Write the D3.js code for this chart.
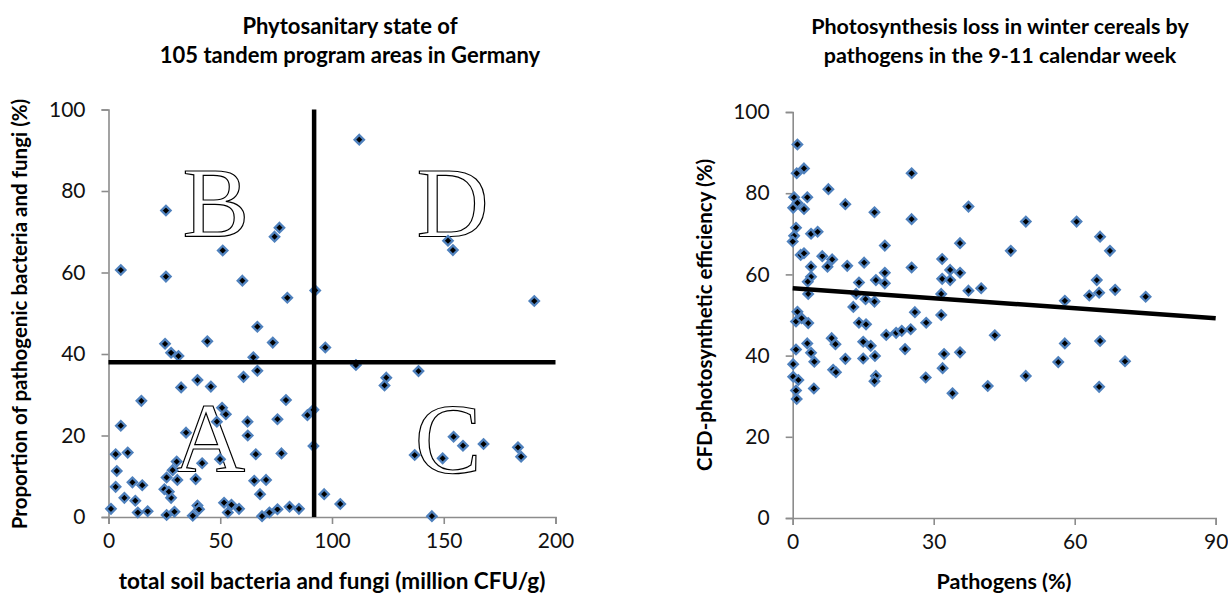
<!DOCTYPE html>
<html><head><meta charset="utf-8">
<script src="https://cdn.jsdelivr.net/npm/d3@7"></script>
<style>
body{margin:0;background:#fff;}
svg{display:block;font-family:Lato,"Open Sans",sans-serif;}
.tick text{font-size:21px;fill:#111;}
</style></head><body>
<svg id="c" width="1228" height="596"></svg>
<script>
// ---- Left chart data: total soil bacteria & fungi (million CFU/g) vs pathogenic proportion (%)
const leftX = [25.7,51.1,74.3,76.5,5.5,25.7,59.9,80,92.5,66.6,25.3,44.2,73.5,28,31.3,64.8,97,66.6,60.4,39.8,32.5,45.8,14.7,79.4,50.8,52.5,89,91.7,48.5,62.2,75.6,5.5,34.7,62.3,91.7,3.2,8.6,65.9,77.4,30.5,41.9,49.9,3.7,28.7,26,30.8,39,65.2,70.5,3.2,10.7,15.1,25,28,7.1,12,67.8,96.5,1.1,13.1,17.5,26,29.5,37.7,39.8,40.5,51.7,53.4,58.4,68.7,72,75.6,81,85.2,112.2,151.9,154.1,190.5,110.7,124.3,123.5,138.7,154.4,158.6,167.8,137,149.5,183.2,184.6,103.7,144.7,27,55];
const leftY = [75.2,65.4,68.8,71,60.6,59,58,53.8,55.6,46.7,42.5,43.1,42.8,40.3,39.5,39.2,41.6,35.9,34.4,33.6,31.8,32,28.5,28.7,26.8,25.2,25,26.3,23.4,23.4,24,22.4,20.7,20,17.4,15.4,15.8,15.4,15.6,13.6,13.2,14.2,11.3,11.5,9.7,9.1,9.3,8.9,9.1,7.4,8.5,7.8,6.8,4.7,4.7,4,5.6,5.6,2,1.1,1.4,0.5,1.3,0.3,2.8,1.9,3.5,1.1,2,0.2,1.1,1.9,2.5,2,92.6,67.8,65.5,53,37.3,34.2,32.3,35.8,19.7,17.5,17.9,15.2,14.4,17.1,14.8,3.2,0.2,6.2,3.0];
const leftXTicks = [0,50,100,150,200];
const leftYTicks = [0,20,40,60,80,100];
const splitX = [92];   // vertical quadrant divider (million CFU/g)
const splitY = [38];   // horizontal quadrant divider (%)
const quadLabels = ["B","D","A","C"];
const quadX = [48,154,45,152];
const quadY = [69,69,11,11];

// ---- Right chart data: Pathogens (%) vs CFD-photosynthetic efficiency (%)
const rightX = [1.0,0.85,2.4,25.3,7.6,0.3,3.1,0.1,2.4,1.0,11.2,17.4,25.3,37.4,0.7,0.3,0,3.9,5.3,19.6,35.6,1.7,2.4,6.3,8.4,7.4,3.9,11.6,15.2,25.3,31.8,33.5,35.6,19.6,31.8,33.5,3.9,3.2,14.1,17.7,19.6,3.3,13.5,15.5,17.4,31.6,37.4,40.1,12.9,1.0,26,31.6,0.7,1.9,3.3,14.1,15.6,28.4,19.9,22,23.2,25.1,43,8.3,9.1,3.1,0.7,3.9,4.6,0.1,15,16.6,15,17.5,11.2,23.9,32.2,35.6,8.6,9.2,31.9,28.3,17.7,17.4,0.1,1.2,4.5,0.7,0.85,34,41.5,49.6,60.4,46.4,65.4,67.5,64.7,63.1,65.2,68.6,75.1,57.9,57.9,65.4,56.5,70.7,49.6,65.2];
const rightY = [92,84.9,86.1,84.9,81,79,79,76.4,76.1,77.6,77.3,75.3,73.6,76.7,71.5,69.5,68.1,70,70.5,67.1,67.7,64.8,65.2,64.5,63.7,61.9,61.9,62.1,62.9,61.7,63.8,61.1,60.4,60.4,58.9,58.6,59.4,58.2,58,58.6,57.8,55.2,55.2,53.9,53.3,55.2,56,56.6,52,50.8,50.7,50,48.4,49.2,48,48.1,47.7,48.1,45.1,45.6,46.1,46.5,45,44.3,42.8,43,41.5,40.7,38.5,37.9,43.4,42.4,39.3,39.9,39.2,41.6,40.4,40.8,36.5,35.9,36.9,34.6,35,33.7,34.8,34,31.9,31.4,29.3,30.7,32.5,73,73,65.8,69.3,65.8,58.6,54.8,55.5,56.2,54.5,53.5,43,43.6,38.4,38.6,35,32.3];
const rightXTicks = [0,30,60,90];
const rightYTicks = [0,20,40,60,80,100];
const trendX = [0,90];
const trendY = [56.6,49.2];

const svg = d3.select("#c");
const axisCol = "#8c8c8c";
const diamond = d3.symbol().type(d3.symbolDiamond2).size(56);

function styleAxis(g){
  g.selectAll(".domain").attr("stroke",axisCol).attr("stroke-width",1.6);
  g.selectAll(".tick line").attr("stroke",axisCol).attr("stroke-width",1.6);
  g.selectAll(".tick text").attr("font-family","Lato, sans-serif");
}
function drawPoints(xs,ys,x,y){
  svg.append("g").selectAll("path").data(xs.map((v,i)=>[v,ys[i]])).join("path")
    .attr("d",diamond)
    .attr("transform",d=>`translate(${x(d[0])},${y(d[1])})`)
    .attr("fill","#000").attr("stroke","#4f81bd").attr("stroke-width",2.3);
}

// ---------- LEFT ----------
const xL = d3.scaleLinear().domain([0,200]).range([108.5,555.5]);
const yL = d3.scaleLinear().domain([0,100]).range([517,109.5]);
svg.append("g").attr("transform","translate(0,517)")
  .call(d3.axisBottom(xL).tickValues(leftXTicks).tickSize(7).tickPadding(9)).call(styleAxis);
svg.append("g").attr("transform","translate(108.5,0)")
  .call(d3.axisLeft(yL).tickValues(leftYTicks).tickSize(7).tickPadding(16)).call(styleAxis);

// quadrant letters
svg.append("g").selectAll("text").data(quadLabels).join("text")
  .attr("x",(d,i)=>xL(quadX[i])).attr("y",(d,i)=>yL(quadY[i]))
  .attr("text-anchor","middle").attr("font-family","Liberation Serif, serif")
  .attr("font-size",100).attr("fill","#fff").attr("stroke","#000").attr("stroke-width",1.2)
  .text(d=>d);

drawPoints(leftX,leftY,xL,yL);

svg.append("line").attr("x1",xL(splitX[0])).attr("x2",xL(splitX[0]))
  .attr("y1",yL(100)).attr("y2",yL(0)).attr("stroke","#000").attr("stroke-width",4.5);
svg.append("line").attr("x1",xL(0)).attr("x2",xL(200))
  .attr("y1",yL(splitY[0])).attr("y2",yL(splitY[0])).attr("stroke","#000").attr("stroke-width",4.5);

// ---------- RIGHT ----------
const xR = d3.scaleLinear().domain([0,90]).range([792.7,1215.7]);
const yR = d3.scaleLinear().domain([0,100]).range([518,112]);
svg.append("g").attr("transform","translate(0,518)")
  .call(d3.axisBottom(xR).tickValues(rightXTicks).tickSize(7).tickPadding(9)).call(styleAxis);
svg.append("g").attr("transform","translate(792.7,0)")
  .call(d3.axisLeft(yR).tickValues(rightYTicks).tickSize(7).tickPadding(16)).call(styleAxis);

drawPoints(rightX,rightY,xR,yR);

svg.append("line").attr("x1",xR(trendX[0])).attr("x2",xR(trendX[1]))
  .attr("y1",yR(trendY[0])).attr("y2",yR(trendY[1])).attr("stroke","#000").attr("stroke-width",4.5);

// ---------- TITLES ----------
function title(lines,cx,fs){
  const t = svg.append("text").attr("text-anchor","middle").attr("font-weight","bold")
    .attr("font-size",fs).attr("fill","#000");
  lines.forEach((l,i)=>t.append("tspan").attr("x",cx).attr("y",34+i*29).text(l));
}
title(["Phytosanitary state of","105 tandem program areas in Germany"],350,22);
title(["Photosynthesis loss in winter cereals by","pathogens in the 9-11 calendar week"],1000,21.5);

function axTitle(txt,x,y,rot,fs){
  svg.append("text").attr("text-anchor","middle").attr("font-weight","bold")
    .attr("font-size",fs).attr("fill","#000")
    .attr("transform",`translate(${x},${y}) rotate(${rot})`).text(txt);
}
axTitle("total soil bacteria and fungi (million CFU/g)",332,589,0,22.5);
axTitle("Proportion of pathogenic bacteria and fungi (%)",27,314,-90,20.5);
axTitle("Pathogens (%)",1004,589,0,21.5);
axTitle("CFD-photosynthetic efficiency (%)",712,315,-90,20.5);
</script></body></html>
